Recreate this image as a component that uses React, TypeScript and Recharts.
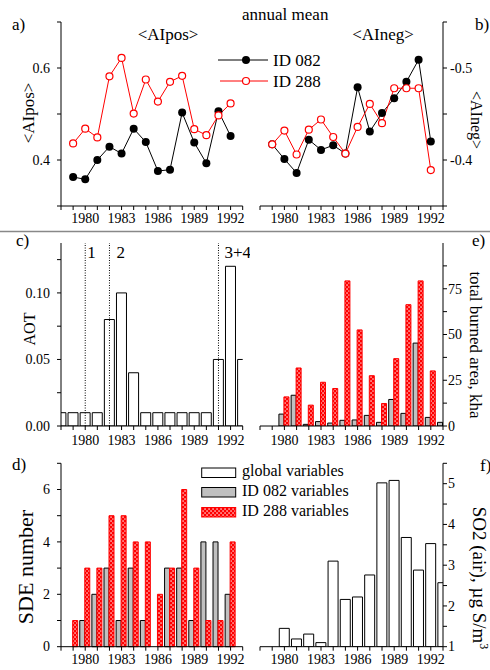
import React from 'react';
import { LineChart, Line, BarChart, Bar, XAxis, YAxis, ReferenceLine } from 'recharts';

const FONT = '"Liberation Serif", "Times New Roman", serif';

// x axes: one tick per year, labels every third year
const yearTicks = [1978, 1979, 1980, 1981, 1982, 1983, 1984, 1985, 1986, 1987, 1988, 1989, 1990, 1991, 1992, 1993];
const labelledYears = [1980, 1983, 1986, 1989, 1992];

// a), b) annual mean
const meanYears = [1979, 1980, 1981, 1982, 1983, 1984, 1985, 1986, 1987, 1988, 1989, 1990, 1991, 1992];
const aiPos082 = [0.363, 0.358, 0.4, 0.429, 0.414, 0.468, 0.439, 0.376, 0.379, 0.503, 0.438, 0.393, 0.506, 0.452];
const aiPos288 = [0.436, 0.468, 0.449, 0.582, 0.622, 0.501, 0.575, 0.527, 0.57, 0.583, 0.467, 0.454, 0.497, 0.523];
const aiNeg082 = [-0.417, -0.401, -0.386, -0.422, -0.411, -0.416, -0.407, -0.479, -0.431, -0.451, -0.467, -0.485, -0.509, -0.42];
const aiNeg288 = [-0.417, -0.432, -0.406, -0.433, -0.444, -0.425, -0.407, -0.436, -0.461, -0.44, -0.478, -0.478, -0.478, -0.389];

// c) aerosol optical thickness
const aotYears = [1978, 1979, 1980, 1981, 1982, 1983, 1984, 1985, 1986, 1987, 1988, 1989, 1990, 1991, 1992, 1993];
const aot = [0.01, 0.01, 0.01, 0.01, 0.08, 0.1, 0.04, 0.01, 0.01, 0.01, 0.01, 0.01, 0.01, 0.05, 0.12, 0.05];
const eruptionYears = [1980, 1982, 1991];
const eruptionLabels = ['1', '2', '3+4'];

// e) total burned area
const burnYears = [1980, 1981, 1982, 1983, 1984, 1985, 1986, 1987, 1988, 1989, 1990, 1991, 1992, 1993];
const burned082 = [6.5, 16.8, 0.9, 2.4, 1.6, 3.1, 3.3, 5.8, 2.0, 14.5, 6.9, 45.3, 4.7, 2.0];
const burned288 = [15.9, 31.7, 11.4, 23.9, 20.5, 79.3, 52.5, 27.5, 12.3, 36.8, 66.3, 79.3, 30.1, null];

// d) SDE number
const sdeYears = [1979, 1980, 1981, 1982, 1983, 1984, 1985, 1986, 1987, 1988, 1989, 1990, 1991, 1992];
const sde082 = [0, 1, 2, 3, 1, 3, 1, 0, 3, 3, 1, 4, 4, 2];
const sde288 = [1, 3, 3, 5, 5, 4, 4, 2, 3, 6, 3, 1, 1, 4];

// f) SO2 in air
const so2Years = [1980, 1981, 1982, 1983, 1984, 1985, 1986, 1987, 1988, 1989, 1990, 1991, 1992, 1993];
const so2 = [1.45, 1.19, 1.31, 1.1, 3.1, 2.16, 2.22, 2.76, 5.02, 5.08, 3.68, 2.88, 3.53, 2.57];

const meanData = meanYears.map((year, i) => ({
  year, pos082: aiPos082[i], pos288: aiPos288[i], neg082: aiNeg082[i], neg288: aiNeg288[i],
}));
const aotData = aotYears.map((year, i) => ({ year, aot: aot[i] }));
const burnData = burnYears.map((year, i) => ({ year, id082: burned082[i], id288: burned288[i] }));
const sdeData = sdeYears.map((year, i) => ({ year, id082: sde082[i], id288: sde288[i] }));
const so2Data = so2Years.map((year, i) => ({ year, so2: so2[i] }));

const RED = '#ff0000';
const GREY = '#c0c0c0';

const yearFmt = (v: number) => (labelledYears.includes(v) ? String(v) : '');
const near = (v: number, list: number[]) => list.some((t) => Math.abs(v - t) < 1e-6);

// tick text drawn by hand so the serif font is used
const AxisTick = ({ x, y, payload, fmt, side }: any) => {
  const label = fmt(payload.value);
  if (!label) return null;
  const anchor = side === 'bottom' ? 'middle' : side === 'left' ? 'end' : 'start';
  const dy = side === 'bottom' ? '0.72em' : '0.34em';
  return (
    <text x={x} y={y} dy={dy} textAnchor={anchor} fontSize={14} fontFamily={FONT} fill="#000">
      {label}
    </text>
  );
};

const xAxisProps = (tickMargin: number, height: number) => ({
  dataKey: 'year',
  type: 'number' as const,
  domain: [1978, 1993],
  ticks: yearTicks,
  interval: 0 as const,
  tick: <AxisTick fmt={yearFmt} side="bottom" />,
  tickSize: 4,
  tickMargin,
  height,
  stroke: '#000',
  allowDataOverflow: true,
});

const EruptionLabel = ({ viewBox, text, dx }: any) => (
  <text x={viewBox.x + dx} y={viewBox.y + 15} fontSize={17} fontFamily={FONT} fill="#000">
    {text}
  </text>
);

const eruptionDx = [2, 7, 6];

const box = (left: number, top: number): React.CSSProperties => ({ position: 'absolute', left, top });

export default function App() {
  return (
    <div style={{ position: 'fixed', left: 0, top: 0, width: 490, height: 670, background: '#fff', fontFamily: FONT }}>
      {/* a) */}
      <div style={box(0, 0)}>
        <LineChart width={250} height={232} data={meanData} margin={{ top: 22, right: 7.3, bottom: 0, left: 16 }}>
          <XAxis {...xAxisProps(3, 26)} />
          <YAxis
            domain={[0.3, 0.7]}
            ticks={[0.3, 0.4, 0.5, 0.6, 0.7]}
            interval={0}
            tick={<AxisTick side="left" fmt={(v: number) => (near(v, [0.4, 0.6]) ? v.toFixed(1) : '')} />}
            tickSize={4}
            tickMargin={7}
            width={45}
            stroke="#000"
          />
          <Line dataKey="pos082" stroke="#000" strokeWidth={1} dot={{ r: 4, fill: '#000', stroke: '#000', strokeWidth: 0 }} isAnimationActive={false} />
          <Line dataKey="pos288" stroke={RED} strokeWidth={1} dot={{ r: 3.5, fill: '#fff', stroke: RED, strokeWidth: 1.2 }} isAnimationActive={false} />
        </LineChart>
      </div>

      {/* b) */}
      <div style={box(250, 0)}>
        <LineChart width={240} height={232} data={meanData} margin={{ top: 22, right: 7, bottom: 0, left: 10 }}>
          <XAxis {...xAxisProps(3, 26)} />
          <YAxis
            orientation="right"
            reversed
            domain={[-0.55, -0.35]}
            ticks={[-0.55, -0.5, -0.45, -0.4, -0.35]}
            interval={0}
            tick={<AxisTick side="right" fmt={(v: number) => (near(v, [-0.5, -0.4]) ? v.toFixed(1) : '')} />}
            tickSize={4}
            tickMargin={3}
            width={40}
            stroke="#000"
          />
          <Line dataKey="neg082" stroke="#000" strokeWidth={1} dot={{ r: 4, fill: '#000', stroke: '#000', strokeWidth: 0 }} isAnimationActive={false} />
          <Line dataKey="neg288" stroke={RED} strokeWidth={1} dot={{ r: 3.5, fill: '#fff', stroke: RED, strokeWidth: 1.2 }} isAnimationActive={false} />
        </LineChart>
      </div>

      {/* c) */}
      <div style={box(0, 232)}>
        <BarChart width={250} height={226} data={aotData} margin={{ top: 11, right: 7.3, bottom: 6, left: 16 }} barCategoryGap="8%">
          <XAxis {...xAxisProps(5, 26)} />
          <YAxis
            domain={[0, 0.1375]}
            allowDataOverflow
            ticks={[0, 0.025, 0.05, 0.075, 0.1, 0.125]}
            interval={0}
            tick={<AxisTick side="left" fmt={(v: number) => (near(v, [0, 0.05, 0.1]) ? v.toFixed(2) : '')} />}
            tickSize={4}
            tickMargin={7}
            width={45}
            stroke="#000"
          />
          <Bar dataKey="aot" fill="#fff" stroke="#000" strokeWidth={1} isAnimationActive={false} />
          {eruptionYears.map((yr, i) => (
            <ReferenceLine
              key={yr}
              x={yr}
              stroke="#000"
              strokeDasharray="1 1.5"
              strokeWidth={1}
              label={<EruptionLabel text={eruptionLabels[i]} dx={eruptionDx[i]} />}
            />
          ))}
        </BarChart>
      </div>

      {/* e) */}
      <div style={box(250, 232)}>
        <BarChart width={240} height={226} data={burnData} margin={{ top: 11, right: 7, bottom: 6, left: 10 }} barCategoryGap="5%" barGap={0}>
          <XAxis {...xAxisProps(5, 26)} />
          <YAxis
            orientation="right"
            domain={[0, 100]}
            allowDataOverflow
            ticks={[0, 12.5, 25, 37.5, 50, 62.5, 75, 87.5]}
            interval={0}
            tick={<AxisTick side="right" fmt={(v: number) => (near(v, [0, 25, 50, 75]) ? String(v) : '')} />}
            tickSize={4}
            tickMargin={1}
            width={40}
            stroke="#000"
          />
          <Bar dataKey="id082" fill={GREY} stroke="#000" strokeWidth={1} isAnimationActive={false} />
          <Bar dataKey="id288" fill="url(#hatch288)" stroke={RED} strokeWidth={1} isAnimationActive={false} />
        </BarChart>
      </div>

      {/* d) */}
      <div style={box(0, 458)}>
        <BarChart width={250} height={212} data={sdeData} margin={{ top: 5.3, right: 7.3, bottom: 1.3, left: 16 }} barCategoryGap="5%" barGap={0}>
          <XAxis {...xAxisProps(3, 22)} />
          <YAxis
            domain={[0, 7]}
            ticks={[0, 1, 2, 3, 4, 5, 6, 7]}
            interval={0}
            tick={<AxisTick side="left" fmt={(v: number) => (near(v, [0, 2, 4, 6]) ? String(v) : '')} />}
            tickSize={4}
            tickMargin={7}
            width={45}
            stroke="#000"
          />
          <Bar dataKey="id082" fill={GREY} stroke="#000" strokeWidth={1} isAnimationActive={false} />
          <Bar dataKey="id288" fill="url(#hatch288)" stroke={RED} strokeWidth={1} isAnimationActive={false} />
        </BarChart>
      </div>

      {/* f) */}
      <div style={box(250, 458)}>
        <BarChart width={240} height={212} data={so2Data} margin={{ top: 5.3, right: 7, bottom: 1.3, left: 10 }} barCategoryGap="8%">
          <XAxis {...xAxisProps(3, 22)} />
          <YAxis
            orientation="right"
            domain={[1, 5.5]}
            allowDataOverflow
            ticks={[1, 1.5, 2, 2.5, 3, 3.5, 4, 4.5, 5, 5.5]}
            interval={0}
            tick={<AxisTick side="right" fmt={(v: number) => (near(v, [1, 2, 3, 4, 5]) ? String(v) : '')} />}
            tickSize={4}
            tickMargin={1}
            width={40}
            stroke="#000"
          />
          <Bar dataKey="so2" fill="#fff" stroke="#000" strokeWidth={1} isAnimationActive={false} />
        </BarChart>
      </div>

      {/* titles, panel letters, axis titles, legends */}
      <svg width={490} height={670} style={{ position: 'absolute', left: 0, top: 0, pointerEvents: 'none' }} fontFamily={FONT} fill="#000">
        <defs>
          <pattern id="hatch288" patternUnits="userSpaceOnUse" width={4} height={4}>
            <rect width={4} height={4} fill={RED} />
            <rect x={0.4} y={0.4} width={1.3} height={1.3} fill="#fff" />
            <rect x={2.4} y={2.4} width={1.3} height={1.3} fill="#fff" />
          </pattern>
        </defs>

        <line x1={0} x2={490} y1={231.5} y2={231.5} stroke="#888" strokeWidth={1.5} />

        <text x={242} y={20} fontSize={17}>annual mean</text>
        <text x={12} y={30} fontSize={17}>a)</text>
        <text x={475} y={30} fontSize={17}>b)</text>
        <text x={168} y={40} fontSize={17} textAnchor="middle">&lt;AIpos&gt;</text>
        <text x={383} y={40} fontSize={17} textAnchor="middle">&lt;AIneg&gt;</text>

        <line x1={218} x2={268} y1={60} y2={60} stroke="#000" strokeWidth={1} />
        <circle cx={246} cy={60} r={4} fill="#000" />
        <text x={273} y={66} fontSize={17}>ID 082</text>
        <line x1={220} x2={268} y1={81} y2={81} stroke={RED} strokeWidth={1} />
        <circle cx={246} cy={81} r={3.5} fill="#fff" stroke={RED} strokeWidth={1.2} />
        <text x={273} y={87} fontSize={17}>ID 288</text>

        <text transform="translate(34,113) rotate(-90)" fontSize={17} textAnchor="middle">&lt;AIpos&gt;</text>
        <text transform="translate(471,120) rotate(90)" fontSize={16} textAnchor="middle">&lt;AIneg&gt;</text>

        <text x={16} y={246} fontSize={17}>c)</text>
        <text x={472} y={246} fontSize={17}>e)</text>
        <text transform="translate(35,329) rotate(-90)" fontSize={16} textAnchor="middle">AOT</text>
        <text transform="translate(470,345) rotate(90)" fontSize={17} textAnchor="middle">total burned area, kha</text>

        <text x={12} y={470} fontSize={17}>d)</text>
        <text x={480} y={471} fontSize={17}>f)</text>
        <text transform="translate(33,567) rotate(-90)" fontSize={22} textAnchor="middle">SDE number</text>
        <text transform="translate(473,578) rotate(90)" fontSize={19} textAnchor="middle">
          SO2 (air), µg S/m<tspan dy={-7} fontSize={12}>3</tspan>
        </text>

        <rect x={201.7} y={468} width={34} height={9.5} fill="#fff" stroke="#000" strokeWidth={1} />
        <rect x={201.7} y={487.5} width={34} height={9.5} fill={GREY} stroke="#000" strokeWidth={1} />
        <rect x={201.7} y={507.5} width={34} height={9.5} fill="url(#hatch288)" stroke={RED} strokeWidth={1} />
        <text x={242} y={476} fontSize={16}>global variables</text>
        <text x={242} y={496} fontSize={16}>ID 082 variables</text>
        <text x={242} y={516} fontSize={16}>ID 288 variables</text>
      </svg>
    </div>
  );
}
